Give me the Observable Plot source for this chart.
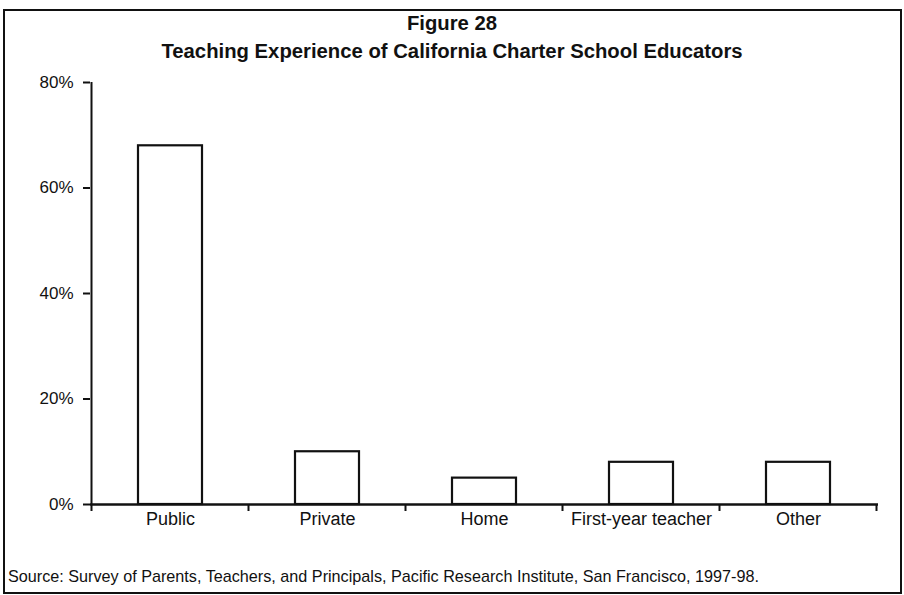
<!DOCTYPE html>
<html><head><meta charset="utf-8">
<script src="https://cdn.jsdelivr.net/npm/d3@7"></script>
<script src="https://cdn.jsdelivr.net/npm/@observablehq/plot@0.6"></script>
<style>
body{margin:0;background:#fff;}
#wrap{position:relative;width:904px;height:595px;overflow:hidden;font-family:"Liberation Sans",Arial,sans-serif;color:#111;}
#frame{position:absolute;left:3px;top:9px;width:899px;height:585px;border:2px solid #111;box-sizing:border-box;}
.t{position:absolute;left:0;width:904px;text-align:center;font-weight:bold;font-size:20.3px;line-height:26px;}
#t1{top:10px}
#t2{top:38px}
#chart{position:absolute;left:0;top:60px;}
#cap{position:absolute;left:8px;top:566px;font-size:16.2px;line-height:20px;}
</style>
</head><body>
<div id="wrap">
<div id="frame"></div>
<div class="t" id="t1">Figure 28</div>
<div class="t" id="t2">Teaching Experience of California Charter School Educators</div>
<div id="chart"></div>
<div id="cap">Source: Survey of Parents, Teachers, and Principals, Pacific Research Institute, San Francisco, 1997-98.</div>
</div>
<script>
const categories = ["Public", "Private", "Home", "First-year teacher", "Other"];
const values = [68, 10, 5, 8, 8];
const yTicks = [0, 20, 40, 60, 80];

const data = categories.map((c, i) => ({cat: c, val: values[i]}));

function axisLines(index, scales, vals, dims) {
  const x = scales.x, y = scales.y;
  const bw = typeof x.bandwidth === "function" ? x.bandwidth() : x.bandwidth;
  const step = x(categories[1]) - x(categories[0]);
  const half = (step - bw) / 2;
  const y0 = y(0), yTop = y(yTicks[yTicks.length - 1]);
  const g = d3.create("svg:g").attr("stroke", "#111").attr("stroke-width", 2).attr("fill", "none");
  const left = x(categories[0]) - half;
  g.append("line").attr("x1", left).attr("x2", left).attr("y1", yTop).attr("y2", y0 + 7);
  categories.forEach(c => {
    const xx = x(c) + bw + half;
    g.append("line").attr("x1", xx).attr("x2", xx).attr("y1", y0).attr("y2", y0 + 7);
  });
  return g.node();
}

const chart = Plot.plot({
  width: 904,
  height: 480,
  marginTop: 22,
  marginBottom: 36,
  marginLeft: 90,
  marginRight: 26,
  style: {fontFamily: '"Liberation Sans",Arial,sans-serif', fontSize: "18px", color: "#111", background: "transparent", overflow: "visible"},
  x: {domain: categories, paddingInner: 0.59, paddingOuter: 0.295, label: null},
  y: {domain: [0, 80], label: null},
  marks: [
    Plot.barY(data, {x: "cat", y: "val", fill: "white", stroke: "#111", strokeWidth: 2.2}),
    Plot.ruleY([0], {stroke: "#111", strokeWidth: 2.5}),
    Plot.axisY({ticks: yTicks, tickFormat: d => d + "%", tickSize: 7, tickPadding: 10, strokeWidth: 2, fontSize: 17, label: null}),
    Plot.axisX({tickSize: 0, tickPadding: 8, fontSize: 18, label: null}),
    axisLines
  ]
});
document.getElementById("chart").appendChild(chart);
</script>
</body></html>
